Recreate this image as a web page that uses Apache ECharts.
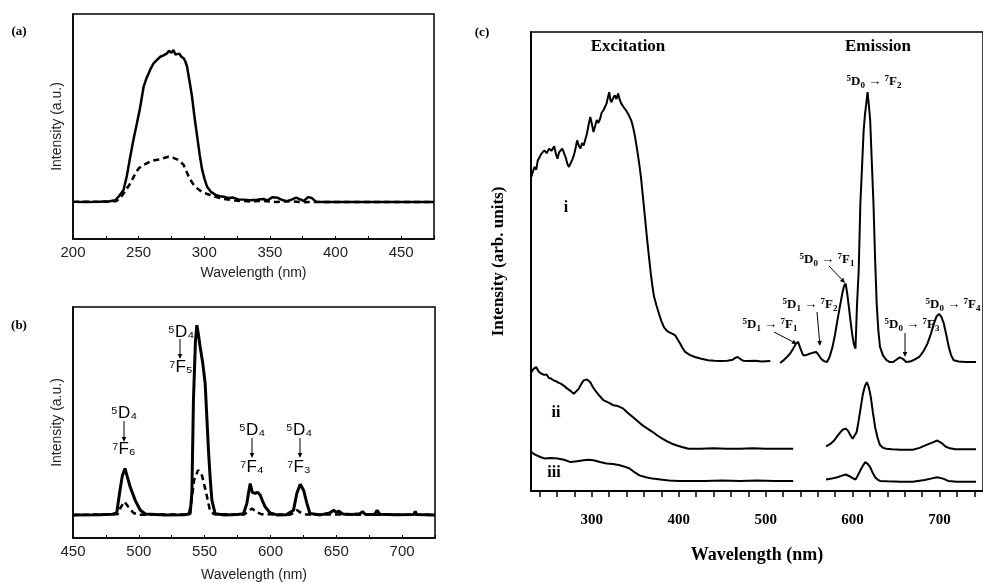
<!DOCTYPE html>
<html>
<head>
<meta charset="utf-8">
<script src="https://cdn.jsdelivr.net/npm/echarts@6/dist/echarts.min.js"></script>
<style>html,body{margin:0;padding:0;background:#fff}#main{width:983px;height:583px}</style>
</head>
<body>
<div id="main"></div>
<script>
// (a) excitation spectra, wavelength (nm) vs intensity (a.u.)
var aSolid = [[200,16.5],[210,16.4],[220,16.6],[228,16.8],[232,17.2],[235,19],[238.5,21.8],[241,28],[243.6,36.6],[246,44],[248.7,51.4],[251,58],[253.8,67.7],[256,71.5],[257.6,73.6],[259,75.5],[261.4,78.1],[264,79.6],[266.5,81],[269,81.6],[271.6,82.5],[273,83.6],[274,84.3],[275,82.8],[276.5,84],[278,82],[279.3,81.8],[281,82.4],[282.5,81],[284.3,80.3],[285.5,79],[286.9,76.6],[288.8,70],[290.7,63.2],[292.6,54],[294.6,45.5],[296.5,37.5],[298.4,30.7],[300.3,26.5],[302.2,23.2],[305,21],[308.6,19.6],[312,19],[314.9,18.8],[318,18.2],[322,18.4],[326,17.6],[330,17.5],[335,17.2],[340,17.4],[345,17.8],[348,17.1],[352,18.6],[356,18.3],[360,17.2],[363,16.8],[366,17.4],[370,18.4],[373,17.6],[376,16.9],[379,18.6],[382,18.2],[385,16.6],[390,16.4],[400,16.4],[420,16.5],[440,16.4],[460,16.5],[475,16.4]];
var aDashed = [[200,16.5],[230,16.6],[233,16.9],[236,18.1],[240,21.5],[243.6,24.7],[247,28.5],[250,31.4],[254,33],[258.9,34.4],[262,35],[266.5,35.4],[270,36.1],[272.9,36.6],[276,36.2],[280.5,35.1],[284.3,32.9],[286,30.6],[288.2,27.7],[291,24.8],[294.6,22.5],[298,21],[302.2,20],[307,19],[312.4,18.1],[318,17.5],[325,17],[335,16.7],[345,16.9],[355,16.4],[365,16.8],[375,16.3],[385,16.5],[400,16.4],[475,16.4]];

// (b) emission spectra
var bSolid = [[450,10],[470,10.1],[480,10.3],[483.2,10.8],[485.7,20.7],[487.5,27],[489.5,30.1],[491,27],[493.4,22.2],[497.2,16.4],[501,12.1],[505,10.4],[520,10],[535,10.1],[539,10.5],[540.3,19.3],[541.5,59.7],[543,85],[544.1,92.1],[545.3,88],[546.6,82.7],[548.5,76],[550.4,66.9],[551.7,52],[552.9,38],[554.2,26],[555.5,16.4],[558,10.5],[565,10],[575,10.2],[579.5,10.5],[582.1,15],[583.5,20],[584.6,23.6],[586.2,19.8],[588.4,19.3],[590.2,19.8],[592.2,18.6],[594,16],[596,13.5],[599.8,10.8],[605,10],[612,10.1],[617.5,12],[620,19.3],[622.6,23.3],[625.2,20.7],[627.7,15],[630,10.6],[638,10],[645,10.8],[648,12],[650,11.1],[652,11.6],[655,10.4],[662,10.2],[668,10.5],[670,11.4],[672,10.3],[679,10.2],[681,12],[683,10.3],[695,10.1],[709,10.2],[710,11.6],[711,10.2],[725,10]];
var bDashed = [[450,10],[484,10.3],[486,13],[489,15.7],[492,13.5],[496,10.8],[500,10.1],[538,10.2],[540,16],[542,25],[545,29.4],[548,27],[551,20],[554,12],[557,10.3],[580,10.2],[583,11.5],[586,12.8],[589,11.3],[593,10.3],[615,10.1],[618,11],[620,12.1],[623,11],[627,10.2],[725,10]];

// (c) excitation / emission of samples i, ii, iii
var excI = [[230.3,68.4],[232,69.5],[234.1,70.6],[236,70],[237.8,72],[239.8,72.4],[242,73.5],[245.4,74.2],[248,73.6],[251,74.6],[253.5,74.1],[256.7,75.1],[258.5,73.5],[260.5,72.4],[262.3,73.8],[264.3,74.2],[266,74.6],[268,74.9],[270,72.6],[271.8,71.3],[273.7,70.6],[275.6,71],[277.5,72.2],[279.3,73.1],[281.2,74.6],[283.1,76.4],[285,75.2],[286.9,74.6],[288.7,75.8],[290.6,75.3],[292.5,76.6],[294.4,77.9],[296.3,79.8],[298.2,81.5],[300,80],[301.9,78.2],[303.8,79.5],[305.6,80.8],[307.5,80.2],[309.5,81.1],[311.3,82.4],[313.2,82.9],[315,83.2],[316.9,84.4],[318.5,85.8],[320,86.9],[321.3,85.2],[322.6,84.7],[324.5,85.6],[326.4,86.2],[328.3,85.4],[330.2,86.6],[332,85.3],[333.9,84.4],[336.7,83.6],[339.5,82.9],[342.4,81.9],[345.2,80.8],[347,79.6],[349,77.9],[350.9,75.8],[352.8,73.5],[354.7,71],[356.5,68.4],[358.4,64.8],[360.3,61.2],[362.2,57.5],[364.1,53.9],[366,50.5],[367.8,47.4],[369.7,44.6],[371.6,42.3],[374.5,40.3],[377.3,38.6],[380,37],[382.9,35.7],[385.8,35],[388.6,34.6],[392.3,34.3],[396,33.9],[398.8,33],[401.7,32.1],[404.5,31.1],[407.3,30.3],[413,29.6],[418.6,29.2],[426,28.8],[433.8,28.5],[441,28.4],[448.8,28.3],[456,28.4],[462,28.6],[465,29],[467.7,29.2],[470.5,28.8],[474,28.4],[480,28.3],[488,28.4],[495,28.2],[505.3,28.3]];
var emI = [[516.6,27.9],[520,28.4],[523,28.9],[527.9,29.9],[531,30.8],[534.5,32],[537.3,32.5],[540,31],[543,29.6],[546.5,29.6],[550.5,29.9],[554,30.1],[558.1,30.3],[561,29.6],[563.7,28.8],[567,28.3],[570.5,28.1],[573.5,29.2],[576.9,31.4],[579.7,34],[582.5,37.2],[585.3,40.1],[588.1,43],[590,44.6],[592,45.2],[593.8,43],[595.7,40.1],[597.6,37],[599.4,34.3],[601.4,32],[603.3,31],[605.1,40.8],[607,48],[608.9,62.6],[610.7,70],[612.7,78.6],[614.2,82],[615.7,84.4],[617.2,86.9],[618.7,84],[620.2,80.8],[622,72],[624,62.6],[625.8,51],[627.7,40.8],[629.6,35],[631.5,31.4],[635,29.5],[639,28.5],[642.8,28.1],[646.6,28.1],[650.3,28.6],[654.1,29.1],[657.8,28.8],[661.6,28.1],[666,28.2],[671,28.6],[676.7,29.2],[681.4,30.4],[686.1,32.1],[690,34.2],[693.6,36.5],[696.4,38],[699.3,38.6],[702,38],[704.9,36.5],[707.8,34],[710.6,31.4],[713.4,29.5],[716.3,28.5],[722,28.2],[730,28.1],[742,28.1]];
var excII = [[230.4,25.9],[233,26.6],[236,27],[238.8,26],[241.7,25.6],[245,25.3],[248,25.4],[250.5,24.6],[253,24.5],[256,24.1],[259,23.9],[261.5,23.6],[264.3,23.4],[268,22.9],[271.8,22.3],[275.5,21.8],[279.3,21.2],[282,21.7],[285,22.3],[287.8,23.3],[290.6,24.1],[294.4,24.3],[298.2,23.7],[301,22.7],[303.8,21.9],[308.5,20.8],[313.2,19.8],[318.8,19.3],[324.5,18.7],[330,18.5],[335.8,18],[341.5,17],[347.1,16.1],[352.8,15.2],[358.4,14.3],[364,13.6],[369.7,12.9],[375.4,12.1],[381,11.4],[386.7,10.8],[392.3,10.3],[398,9.9],[403.6,9.6],[411.2,9.2],[425,9.2],[440,9.3],[455,9.2],[470,9.2],[485,9.3],[500,9.2],[515,9.2],[531.6,9.2]];
var emII = [[569.4,9.7],[574,10.2],[578.8,11],[582.5,12],[586.3,12.9],[589,13.4],[592,13.6],[594.8,13.1],[597.6,12.1],[600,11.4],[602.2,11],[604.6,12.8],[607,15.4],[609.5,18.4],[611.9,21.2],[614.2,22.9],[616.4,23.7],[618.6,22.6],[620.9,20.5],[623.4,17],[625.9,13.9],[628.7,11.6],[631.5,10],[635,9.4],[639,9.2],[645,9.1],[655,9],[669.2,9],[677,9.4],[684.2,10],[690.8,10.5],[697.4,11],[702,10.5],[706.8,9.7],[712,9.3],[718.1,9.1],[730,9.1],[742,9.1]];
var excIII = [[230.4,8.5],[233,8.1],[236,7.8],[240.7,7.4],[245.4,7.1],[253,7.2],[260.5,7.1],[268,6.8],[275.6,6.3],[283,6.5],[290.6,6.7],[296,6.8],[301.9,6.7],[309.4,6.3],[316.9,6],[324.5,5.9],[332.1,5.6],[337.8,5.3],[343.4,4.9],[349,4.1],[354.7,3.4],[362.2,3],[369.7,2.7],[379,2.5],[388.6,2.3],[400,2.2],[411.2,2.2],[430,2.2],[450,2.3],[470,2.2],[490,2.3],[510,2.2],[531.6,2.2]];
var emIII = [[569.4,2.5],[576,2.7],[582.5,3],[587,3.3],[592,3.6],[597.6,3.1],[603.3,2.5],[606,3.4],[608.9,4.5],[611.8,5.5],[614.6,6.3],[617.4,5.9],[620.2,5.2],[623,4],[625.9,3],[628.7,2.5],[631.5,2.2],[640,2.1],[655,2],[669,2],[683,2.4],[690,2.7],[697.4,3],[704,2.7],[710,2.2],[720,2],[742,2]];

var cLabels = [300, 400, 500, 600, 700];
var cTicks = [240,260,280,300,320,340,360,380,400,420,440,460,480,500,520,540,560,580,600,620,640,660,680,700,720,740];

var sans = '"Liberation Sans", Arial, sans-serif';
var serif = '"Liberation Serif", "Times New Roman", serif';
var myChart = echarts.init(document.getElementById('main'));

function _line(data, idx, dashed, w){
	return {
		type:'line', xAxisIndex:idx, yAxisIndex:idx, data:data,
		symbol:'none', silent:true, animation:false,
		lineStyle:{color:'#000', width:w, type: dashed ? [6,4] : 'solid'}
	};
}
function _txt(s, x, y, font, align){
	return {type:'text', x:x, y:y, silent:true,
		style:{text:s, font:font, fill:'#000', textAlign:align||'center', textVerticalAlign:'middle'}};
}
// term symbol like 5D0 -> 7F2, small raised / lowered digits
var termRich = {
	b:{fontFamily:serif, fontWeight:'bold', fontSize:13, lineHeight:16},
	s:{fontFamily:serif, fontWeight:'bold', fontSize:9, lineHeight:9, verticalAlign:'top'},
	u:{fontFamily:serif, fontWeight:'bold', fontSize:9, lineHeight:9, verticalAlign:'bottom'}
};
function _term(a, p, b, q, c, r, x, y){
	return {type:'text', x:x, y:y, silent:true,
		style:{text:'{s|'+a+'}{b|'+p+'}{u|'+b+'}{b| → }{s|'+q+'}{b|'+c+'}{u|'+r+'}',
			rich:termRich, fill:'#000', textAlign:'center', textVerticalAlign:'middle'}};
}
function _arrow(x1, y1, x2, y2){
	var a = Math.atan2(y2-y1, x2-x1), h = 5, w = 2.3;
	var bx = x2 - h*Math.cos(a), by = y2 - h*Math.sin(a);
	return [
		{type:'line', silent:true, shape:{x1:x1, y1:y1, x2:bx, y2:by}, style:{stroke:'#000', lineWidth:1}},
		{type:'polygon', silent:true, shape:{points:[[x2,y2],[bx+w*Math.sin(a), by-w*Math.cos(a)],[bx-w*Math.sin(a), by+w*Math.cos(a)]]}, style:{fill:'#000'}}
	];
}
function _sansX(min, max, idx, gap){
	return {
		type:'value', gridIndex:idx, min:min, max:max, interval:50,
		axisLine:{show:true, lineStyle:{color:'#000', width:1.5}},
		axisTick:{show:true, inside:true, length:3, lineStyle:{color:'#000'}},
		minorTick:{show:true, splitNumber:2, length:3, lineStyle:{color:'#000'}},
		splitLine:{show:false},
		axisLabel:{color:'#222', fontFamily:sans, fontSize:15, margin:6, showMaxLabel:false},
		name:'Wavelength (nm)', nameLocation:'middle', nameGap:gap,
		nameTextStyle:{color:'#222', fontFamily:sans, fontSize:14}
	};
}
function _sansY(idx){
	return {
		type:'value', gridIndex:idx, min:0, max:100,
		axisLine:{show:true, lineStyle:{color:'#000', width:1.5}},
		axisTick:{show:false}, axisLabel:{show:false}, splitLine:{show:false},
		name:'Intensity (a.u.)', nameLocation:'middle', nameGap:9,
		nameTextStyle:{color:'#222', fontFamily:sans, fontSize:14}
	};
}

var gfx = [
	_txt('(a)', 19, 32, 'bold 13px ' + serif),
	_txt('(b)', 19, 326, 'bold 13px ' + serif),
	_txt('(c)', 482, 33, 'bold 13px ' + serif),
	// (b) transitions
	_txt('⁵D₄', 124, 413, '17px ' + sans), _txt('⁷F₆', 124, 449, '17px ' + sans),
	_txt('⁵D₄', 181, 332, '17px ' + sans), _txt('⁷F₅', 181, 367, '17px ' + sans),
	_txt('⁵D₄', 252, 430, '17px ' + sans), _txt('⁷F₄', 252, 467, '17px ' + sans),
	_txt('⁵D₄', 299, 430, '17px ' + sans), _txt('⁷F₃', 299, 467, '17px ' + sans),
	// (c) headings and labels
	_txt('Excitation', 628, 47, 'bold 17px ' + serif),
	_txt('Emission', 878, 47, 'bold 17px ' + serif),
	_txt('i', 566, 208, 'bold 16px ' + serif),
	_txt('ii', 556, 413, 'bold 16px ' + serif),
	_txt('iii', 554, 473, 'bold 16px ' + serif),
	_term('5','D','0','7','F','2', 874, 82),
	_term('5','D','0','7','F','1', 827, 260),
	_term('5','D','1','7','F','2', 810, 305),
	_term('5','D','1','7','F','1', 770, 325),
	_term('5','D','0','7','F','3', 912, 325),
	_term('5','D','0','7','F','4', 953, 305)
];
gfx = gfx.concat(
	_arrow(124, 421, 124, 442), _arrow(180, 339, 180, 359),
	_arrow(252, 438, 252, 458), _arrow(300, 438, 300, 458),
	_arrow(829, 266, 845, 283), _arrow(817, 312, 820, 346),
	_arrow(774, 332, 797, 344), _arrow(905, 333, 905, 357)
);

var option = {
	backgroundColor:'#fff',
	animation:false,
	grid:[
		{left:73, top:14, width:361, height:225, show:true, borderColor:'#000', borderWidth:1.5},
		{left:73, top:307, width:362, height:231, show:true, borderColor:'#000', borderWidth:1.5},
		{left:531, top:32, width:460, height:459, show:true, borderColor:'#000', borderWidth:1.5}
	],
	xAxis:[
		_sansX(200, 475, 0, 27),
		_sansX(450, 725, 1, 30),
		{
			type:'value', gridIndex:2, min:230, max:750,
			axisLine:{show:true, lineStyle:{color:'#000', width:2}},
			axisTick:{show:true, length:6, customValues:cTicks, lineStyle:{color:'#000', width:1.5}},
			axisLabel:{customValues:cLabels, color:'#000', fontFamily:serif, fontWeight:'bold', fontSize:15, margin:22},
			splitLine:{show:false},
			name:'Wavelength (nm)', nameLocation:'middle', nameGap:55,
			nameTextStyle:{color:'#000', fontFamily:serif, fontWeight:'bold', fontSize:18}
		}
	],
	yAxis:[
		_sansY(0), _sansY(1),
		{
			type:'value', gridIndex:2, min:0, max:100,
			axisLine:{show:true, lineStyle:{color:'#000', width:2}},
			axisTick:{show:false}, axisLabel:{show:false}, splitLine:{show:false},
			name:'Intensity (arb. units)', nameLocation:'middle', nameGap:24,
			nameTextStyle:{color:'#000', fontFamily:serif, fontWeight:'bold', fontSize:17}
		}
	],
	series:[
		_line(aDashed, 0, true, 2.5), _line(aSolid, 0, false, 2.5),
		_line(bDashed, 1, true, 2.5), _line(bSolid, 1, false, 3),
		_line(excI, 2, false, 2), _line(emI, 2, false, 2),
		_line(excII, 2, false, 2), _line(emII, 2, false, 2),
		_line(excIII, 2, false, 2), _line(emIII, 2, false, 2)
	],
	graphic:gfx
};
myChart.setOption(option, true);
</script>
</body>
</html>
